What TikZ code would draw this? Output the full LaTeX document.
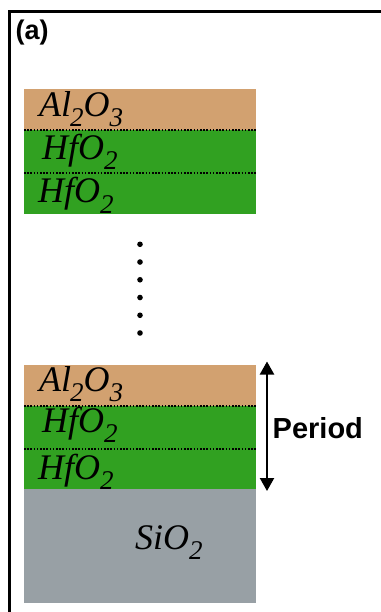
\documentclass[tikz,border=0pt]{standalone}
\usepackage{fontspec}
\setmainfont{Liberation Serif}
\setsansfont{Liberation Sans}
\usetikzlibrary{arrows.meta}
\definecolor{tan}{RGB}{210,161,112}
\definecolor{grn}{RGB}{49,161,33}
\definecolor{gry}{RGB}{152,160,165}
\newcommand\sbs[1]{\raisebox{-10pt}{\fontsize{27}{27}\selectfont #1}}
\newcommand\Alo{Al\kern-1pt\sbs{2}O\sbs{3}}
\newcommand\Hfo{HfO\sbs{2}}
\newcommand\Sio{SiO\sbs{2}}
\begin{document}
\begin{tikzpicture}[x=1pt,y=-1pt,
  layer/.style={draw=none,inner sep=0pt,minimum width=232pt,anchor=north west,outer sep=0pt},
  lab/.style={anchor=base west,inner sep=0pt,font=\fontsize{36}{36}\selectfont\itshape},
  sep/.style={line width=1.6pt,dash pattern=on 1.6pt off 1.6pt},
  dotm/.style={circle,fill=black,inner sep=0pt,minimum size=5.6pt},
  bold/.style={font=\sffamily\bfseries\fontsize{#1}{#1}\selectfont,inner sep=0pt}]
\useasboundingbox (0,0) rectangle (380,612);
\draw[line width=2.6pt] (9.5,620) -- (9.5,11.5) -- (390,11.5);
\node[bold=27,anchor=north west] (tag) at (15.5,20) {(a)};
% top stack
\node[layer,fill=tan,minimum height=41pt] (a1) at (24,89) {};
\node[layer,fill=grn,minimum height=43pt] (h1) at (24,130) {};
\node[layer,fill=grn,minimum height=41pt] (h2) at (24,173) {};
\draw[sep] (a1.south west) -- (a1.south east);
\draw[sep] (h1.south west) -- (h1.south east);
\node[lab] (la1) at (39,116.5) {\Alo};
\node[lab] (lh1) at (42,159.5) {\Hfo};
\node[lab] (lh2) at (38,203) {\Hfo};
% dots
\foreach \i in {0,...,5} \node[dotm] (d\i) at (140,244.3+17.74*\i) {};
% bottom stack
\node[layer,fill=tan,minimum height=40.7pt] (a2) at (24,365.3) {};
\node[layer,fill=grn,minimum height=43pt] (h3) at (24,406) {};
\node[layer,fill=grn,minimum height=40.3pt] (h4) at (24,449) {};
\node[layer,fill=gry,minimum height=113.4pt] (si) at (24,489.3) {};
\draw[sep] (a2.south west) -- (a2.south east);
\draw[sep] (h3.south west) -- (h3.south east);
\node[lab] (la2) at (39,391.7) {\Alo};
\node[lab] (lh3) at (42,432) {\Hfo};
\node[lab] (lh4) at (38,479) {\Hfo};
\node[lab] (ls) at (135,549) {\Sio};
% period arrow
\coordinate (pt) at (267,361.5);
\coordinate (pb) at (267,491);
\draw[line width=2.2pt,{Triangle[width=14pt,length=13pt]}-{Triangle[width=14pt,length=13pt]}] (pt) -- (pb);
\node[bold=29,anchor=west] (per) at (272.5,428) {Period};
\end{tikzpicture}
\end{document}
